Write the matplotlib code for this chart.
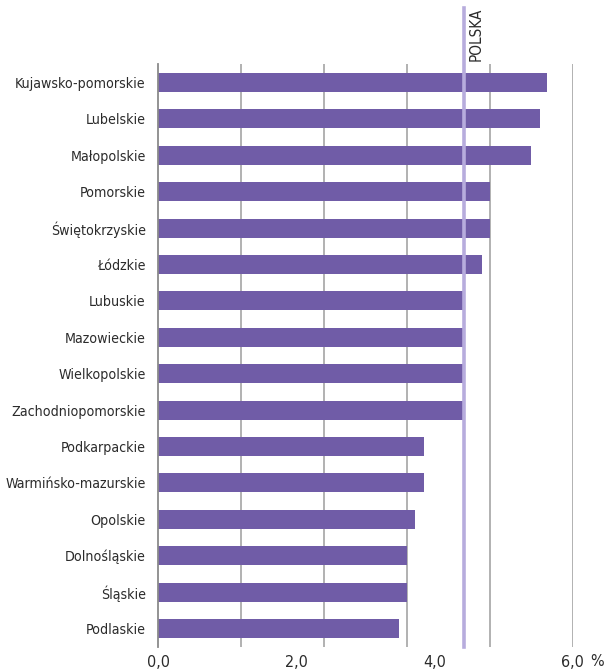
import matplotlib
matplotlib.use("Agg")
import matplotlib.pyplot as plt

plt.rcParams['font.family'] = ['DejaVu Sans']
plt.rcParams['font.stretch'] = 'condensed'

# data (%)
regions = ["Kujawsko-pomorskie", "Lubelskie", "Małopolskie", "Pomorskie",
           "Świętokrzyskie", "Łódzkie", "Lubuskie", "Mazowieckie",
           "Wielkopolskie", "Zachodniopomorskie", "Podkarpackie",
           "Warmińsko-mazurskie", "Opolskie", "Dolnośląskie", "Śląskie",
           "Podlaskie"]
values = [5.63, 5.52, 5.40, 4.80, 4.80, 4.68, 4.43, 4.43, 4.43, 4.43,
          3.84, 3.84, 3.72, 3.60, 3.60, 3.48]
polska = 4.43
polska_label = "POLSKA"
xticks = [0, 2, 4, 6]
xtick_labels = ["0,0", "2,0", "4,0", "6,0"]
grid_x = [1.2, 2.4, 3.6, 4.8, 6.0]

bar_color = "#705ca7"
grid_color = "#ababab"
text_color = "#2b2b2b"

fig = plt.figure(figsize=(6.06, 6.72), dpi=100)
ax = fig.add_axes([158.3 / 606, 25 / 672, (572.7 - 158.3) / 606, 583 / 672])

ypos = list(range(len(regions)))
ax.barh(ypos, values, height=0.52, color=bar_color, zorder=2)

for gx in grid_x:
    ax.axvline(gx, color=grid_color, lw=1.3, zorder=1)

# national average line, sticks out above the plot
ax.axvline(polska, ymin=0, ymax=(647 - 8) / 583, color="#b7acdd", lw=2.6,
           zorder=3, clip_on=False)
ax.text(polska + 0.17, 1.0 + (64 - 8) / 583, polska_label, rotation=90,
        transform=ax.get_xaxis_transform(), ha="center", va="top",
        fontsize=11, color=text_color)

ax.set_xlim(0, 6.0)
ax.set_ylim(len(regions) - 0.49, -0.51)
ax.set_yticks(ypos)
ax.set_yticklabels(regions, fontsize=10.2, color=text_color)
ax.set_xticks(xticks)
ax.set_xticklabels(xtick_labels, fontsize=11.5, color=text_color)
ax.tick_params(axis="both", length=0)
ax.tick_params(axis="y", pad=9)
ax.tick_params(axis="x", pad=6)

for s in ["top", "right", "bottom"]:
    ax.spines[s].set_visible(False)
ax.spines["left"].set_color("#8a8a8a")
ax.spines["left"].set_linewidth(1.3)

ax.text(597 / 606, 1 - 662 / 672, "%", transform=fig.transFigure,
        ha="center", va="center", fontsize=11.5, color=text_color)

fig.savefig("out.png", dpi=100)
